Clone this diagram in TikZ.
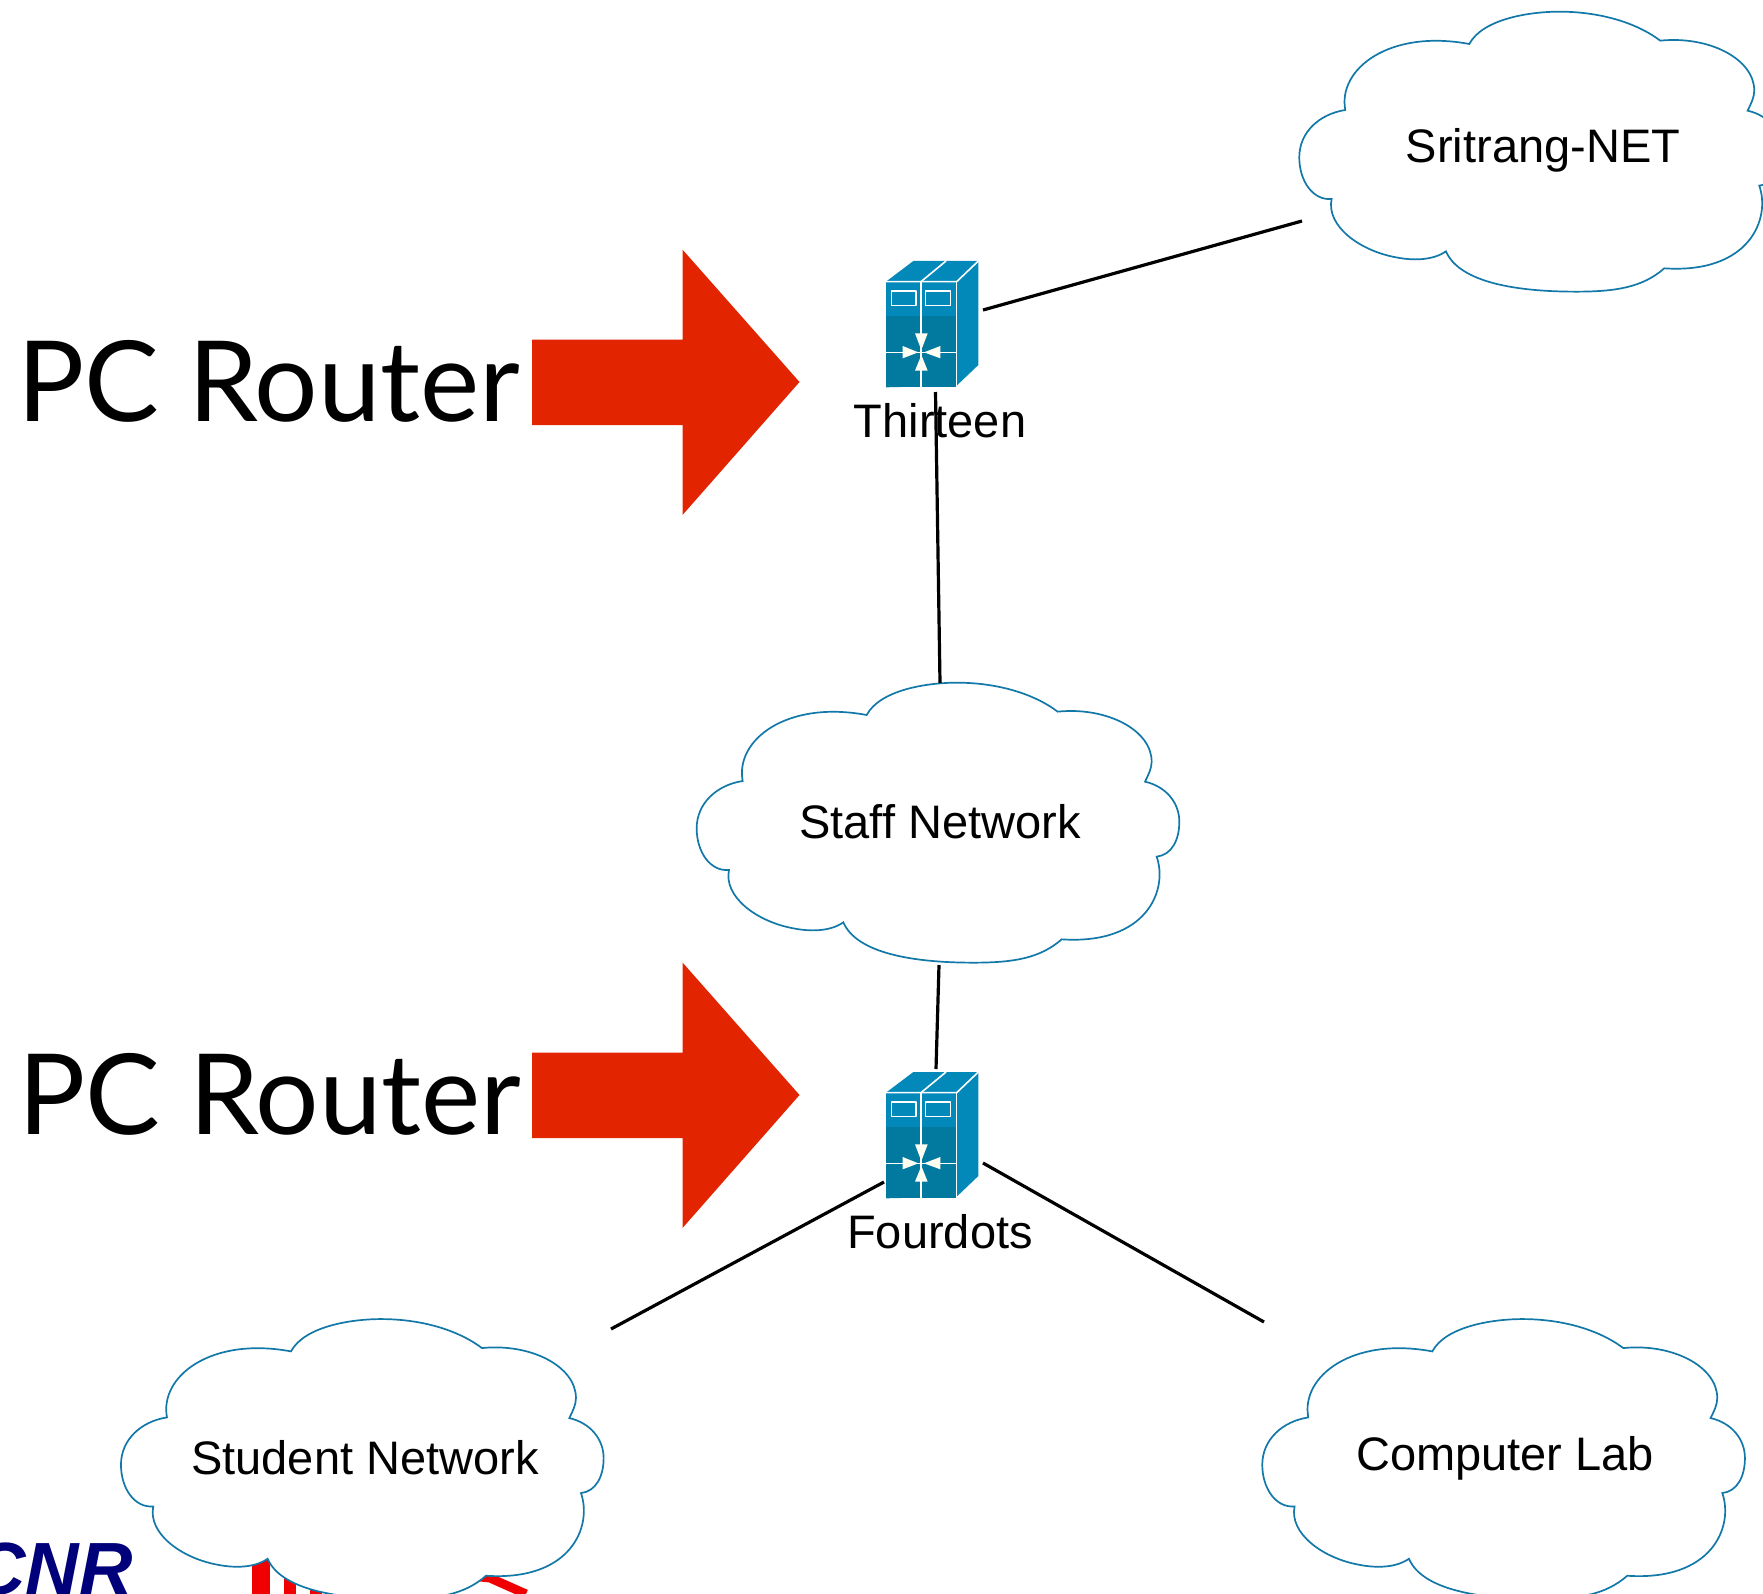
\documentclass[tikz,border=0pt]{standalone}
\usepackage{fontspec}
\setmainfont{Liberation Sans}
\newfontfamily\gillish{Lato}
\usetikzlibrary{calc}
\definecolor{cloudline}{HTML}{1278A8}
\definecolor{routerlight}{HTML}{0388BA}
\definecolor{routerdark}{HTML}{02799F}
\definecolor{arrowred}{HTML}{E22500}
\definecolor{logoblue}{HTML}{00007A}
\definecolor{logored}{HTML}{F00000}
\tikzset{
  x=1pt,y=-1pt,
  cloudpath/.style={draw=cloudline,line width=1.7pt,fill=white,line join=miter},
  linkline/.style={draw=black,line width=3.2pt},
  biglabel/.style={font=\gillish\fontsize{112}{120}\selectfont,inner sep=0pt,text=black},
  netlabel/.style={font=\fontsize{47}{54}\selectfont,inner sep=0pt,text=black},
  bigarrow/.style={fill=arrowred,draw=none},
  routerbox/.style={inner sep=0pt,minimum width=93pt,minimum height=128pt},
  cloudbox/.style={inner sep=0pt},
  pics/netcloud/.style={code={
    \begin{scope}[xscale=1/3,yscale=1/3]
    \draw[cloudpath] (560,135)
      .. controls (600,60) and (740,38) .. (830,38)
      .. controls (950,38) and (1060,70) .. (1133,125)
      .. controls (1280,110) and (1415,180) .. (1415,275)
      .. controls (1415,295) and (1405,315) .. (1395,335)
      .. controls (1460,350) and (1498,400) .. (1498,455)
      .. controls (1498,510) and (1475,555) .. (1430,560)
      .. controls (1465,660) and (1400,825) .. (1145,808)
      .. controls (1080,865) and (1000,878) .. (880,878)
      .. controls (700,878) and (530,850) .. (490,757)
      .. controls (450,785) and (390,785) .. (340,775)
      .. controls (230,755) and (130,680) .. (147,600)
      .. controls (90,605) and (50,545) .. (50,475)
      .. controls (50,400) and (110,345) .. (188,333)
      .. controls (165,210) and (320,90) .. (560,135) -- cycle;
    \end{scope}
  }},
  pics/routericon/.style={code={
    \begin{scope}[xscale=1/3,yscale=1/3,line join=round]
    \fill[routerlight] (78,125) -- (160,63) -- (355,63) -- (355,375) -- (290,437) -- (78,442) -- cycle;
    \fill[routerdark] (78,228) rectangle (290,442);
    \draw[white,line width=1.6pt] (78,125) -- (290,125) -- (355,63);
    \draw[white,line width=1.6pt] (290,125) -- (290,442);
    \draw[white,line width=1.6pt] (183,125) -- (258,63);
    \draw[white,line width=1.6pt] (183,125) -- (183,442);
    \draw[white,line width=1.6pt] (78,337) -- (290,337);
    \draw[white,line width=1.3pt] (94,153) rectangle (168,196);
    \draw[white,line width=1.3pt] (196,153) rectangle (271,196);
    \fill[white!95!yellow] (165,280) -- (203,280) -- (184,330) -- cycle;
    \fill[white!95!yellow] (165,392) -- (203,392) -- (184,345) -- cycle;
    \fill[white!95!yellow] (128,318) -- (128,355) -- (175,337) -- cycle;
    \fill[white!95!yellow] (241,318) -- (241,355) -- (192,337) -- cycle;
    \end{scope}
  }}
}
\begin{document}
\begin{tikzpicture}
\useasboundingbox (0,0) rectangle (1763,1594);
\clip (0,0) rectangle (1763,1594);
% logo fragments under the Student Network cloud
\node[anchor=base west,inner sep=0pt,text=logoblue,font=\bfseries\itshape\fontsize{74}{80}\selectfont] at (-28,1594) {CNR};
\fill[logored] (252,1556) rectangle (270,1594);
\fill[logored] (284,1570) rectangle (296,1594);
\fill[logored] (310,1580) rectangle (322,1594);
\draw[logored,line width=9pt] (462,1575) -- (490,1578) -- (526,1594);
% clouds
\pic at (1282.6,-1) {netcloud};
\pic at (680,670) {netcloud};
\pic at (104.3,1306.4) {netcloud};
\pic at (1245.6,1306.4) {netcloud};
\node[netlabel] (srit) at (1543,150) {Sritrang-NET};
\node[netlabel] (staff) at (940,822) {Staff Network};
\node[netlabel] (student) at (365,1458) {Student Network};
\node[netlabel] (lab) at (1505,1458) {Computer Lab};
% routers
\pic at (860,240) {routericon};
\pic at (860,1051) {routericon};
\node[routerbox] (thirteen) at (932,331) {};
\node[routerbox] (fourdots) at (932,1142) {};
\node[netlabel] (thirteenlabel) at (940,421) {Thirteen};
\node[netlabel] (fourdotslabel) at (940,1232) {Fourdots};
% big labels and arrows
\node[biglabel,anchor=base west] (pca) at (17,421) {PC Router};
\node[biglabel,anchor=base west] (pcb) at (18,1134) {PC Router};
\fill[bigarrow] (532,339.6) -- (682.5,339.6) -- (682.5,249.6) -- (799.5,382) -- (682.5,515) -- (682.5,425) -- (532,425) -- cycle;
\fill[bigarrow] (532,1052.5) -- (682.5,1052.5) -- (682.5,962.5) -- (799.5,1095) -- (682.5,1228) -- (682.5,1138) -- (532,1138) -- cycle;
% connector ends
\coordinate (tE) at ([shift={(51,-21)}]thirteen.center);
\coordinate (tS) at ([shift={(3.5,61)}]thirteen.center);
\coordinate (fN) at ([shift={(4,-73)}]fourdots.center);
\coordinate (fW) at ([shift={(-48,40)}]fourdots.center);
\coordinate (fE) at ([shift={(51,21)}]fourdots.center);
\coordinate (sW) at ([shift={(-241,71)}]srit.center);
\coordinate (stN) at ([shift={(0,-139)}]staff.center);
\coordinate (stS) at ([shift={(-1,143)}]staff.center);
\coordinate (stuE) at ([shift={(246,-129)}]student.center);
\coordinate (labW) at ([shift={(-241,-136)}]lab.center);
\draw[linkline] (tE) -- (sW);
\draw[linkline] (tS) -- (stN);
\draw[linkline] (stS) -- (fN);
\draw[linkline] (fW) -- (stuE);
\draw[linkline] (fE) -- (labW);
\end{tikzpicture}
\end{document}
